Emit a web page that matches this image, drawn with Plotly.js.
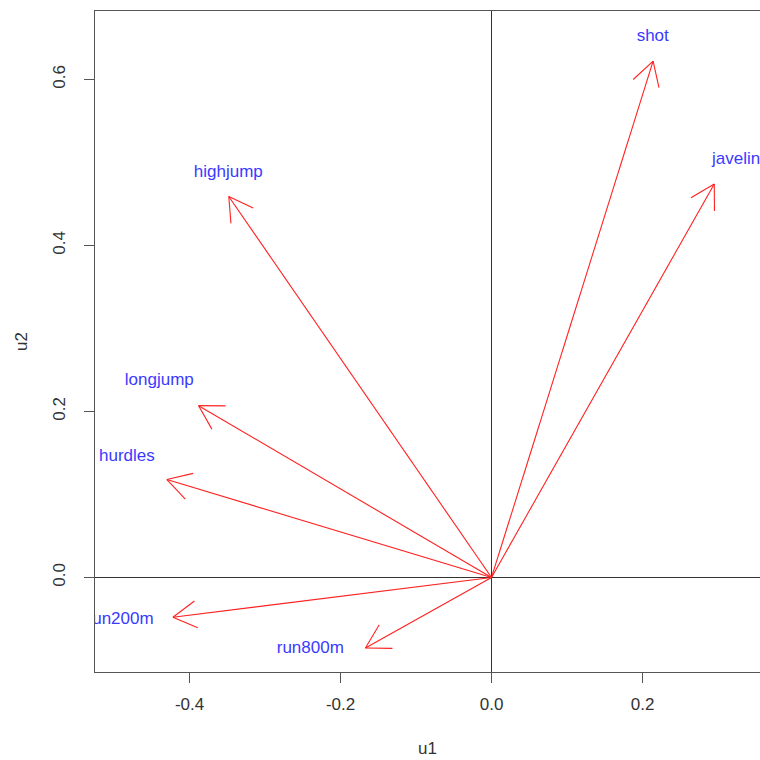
<!DOCTYPE html>
<html>
<head>
<meta charset="utf-8">
<script src="https://cdn.plot.ly/plotly-3.0.1.min.js"></script>
<style>html,body{margin:0;padding:0;background:#fff;}#chart{width:760px;height:760px;}</style>
</head>
<body>
<div id="chart"></div>
<script>
// Variable loadings
const variables = ['shot', 'javelin', 'highjump', 'longjump', 'hurdles', 'run200m', 'run800m'];
const u1 = [0.214, 0.295, -0.348, -0.388, -0.430, -0.422, -0.167];
const u2 = [0.622, 0.474, 0.459, 0.207, 0.118, -0.048, -0.085];
// Label anchor positions
const labelU1 = [0.2135, 0.324, -0.3486, -0.440, -0.483, -0.492, -0.240];
const labelU2 = [0.6516, 0.503, 0.488, 0.237, 0.1454, -0.0512, -0.0861];
// Axis ticks
const xTicks = [-0.4, -0.2, 0.0, 0.2];
const xTickText = ['-0.4', '-0.2', '0.0', '0.2'];
const yTicks = [0.0, 0.2, 0.4, 0.6];
const yTickText = ['0.0', '0.2', '0.4', '0.6'];

const xRange = [-0.5252, 0.3556];
const yRange = [-0.1139, 0.6825];
const W = 760, H = 760;
const margin = {l: 95, r: 0, t: 11, b: 88};
const sx = (W - margin.l - margin.r) / (xRange[1] - xRange[0]);
const sy = (H - margin.t - margin.b) / (yRange[1] - yRange[0]);

// Arrows: shaft + open V head (head length in px, 30 deg)
const headLen = 27, headAng = Math.PI / 6;
const ax = [], ay = [];
for (let i = 0; i < variables.length; i++) {
  const x = u1[i], y = u2[i];
  ax.push(0, x, null);
  ay.push(0, y, null);
  const th = Math.atan2(y * sy, x * sx);
  for (const s of [1, -1]) {
    const a = th + s * headAng;
    ax.push(x, x - headLen * Math.cos(a) / sx, null);
    ay.push(y, y - headLen * Math.sin(a) / sy, null);
  }
}

const font = 'Liberation Sans, Arial, sans-serif';
const traces = [
  {x: ax, y: ay, mode: 'lines', type: 'scatter', line: {color: '#ff2020', width: 1.1}, hoverinfo: 'skip', showlegend: false, cliponaxis: true},
  {x: labelU1, y: labelU2, text: variables, mode: 'text', type: 'scatter', textposition: 'middle center',
   textfont: {family: font, size: 17, color: '#3a3aff'}, showlegend: false, cliponaxis: true}
];

const layout = {
  width: W, height: H,
  margin: margin,
  paper_bgcolor: '#fff', plot_bgcolor: '#fff',
  showlegend: false,
  font: {family: font, size: 17, color: '#333'},
  xaxis: {
    range: xRange, tickvals: xTicks, ticktext: xTickText,
    showgrid: false, zeroline: true, zerolinecolor: '#333', zerolinewidth: 1,
    showline: true, mirror: true, linecolor: '#555', linewidth: 1.2,
    ticks: 'outside', ticklen: 10, tickcolor: '#555', tickwidth: 1.2,
    ticklabelstandoff: 6,
    tickfont: {family: font, size: 17, color: '#333'},
    title: {text: 'u1', font: {family: font, size: 17, color: '#333'}, standoff: 29}
  },
  yaxis: {
    range: yRange, tickvals: yTicks, ticktext: yTickText, tickangle: -90,
    showgrid: false, zeroline: true, zerolinecolor: '#333', zerolinewidth: 1,
    showline: true, mirror: false, linecolor: '#555', linewidth: 1.2,
    ticks: 'outside', ticklen: 10, tickcolor: '#555', tickwidth: 1.2,
    ticklabelstandoff: 12,
    tickfont: {family: font, size: 17, color: '#333'},
    title: {text: 'u2', font: {family: font, size: 17, color: '#333'}, standoff: 18}
  }
};

Plotly.newPlot('chart', traces, layout, {displayModeBar: false, staticPlot: true});
</script>
</body>
</html>
